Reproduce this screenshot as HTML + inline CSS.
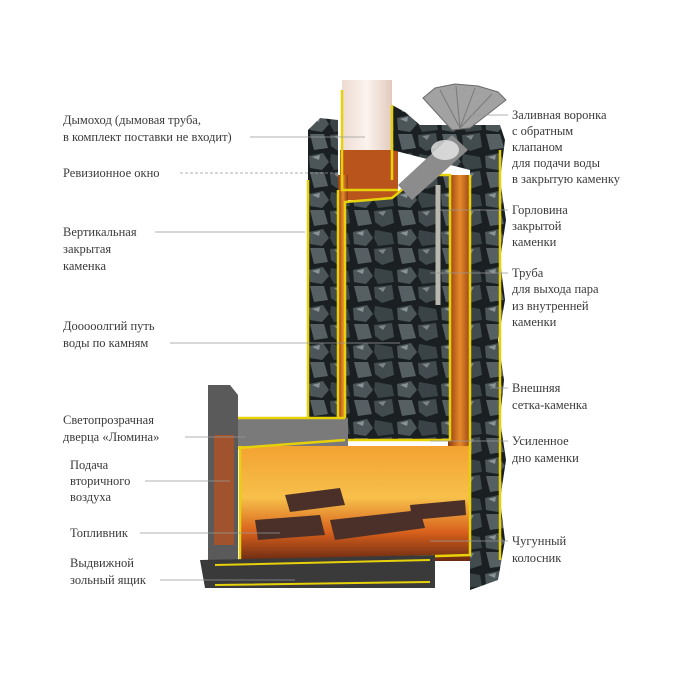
<!DOCTYPE html>
<html><head><meta charset="utf-8"><style>
html,body{margin:0;padding:0;background:#fff;width:700px;height:700px;overflow:hidden}
text{font-family:"Liberation Serif",serif;font-size:12.5px;fill:#3a3a3a}
</style></head><body>
<svg width="700" height="700" viewBox="0 0 700 700" xmlns="http://www.w3.org/2000/svg">
<defs>
<pattern id="rocks" width="44" height="38" patternUnits="userSpaceOnUse">
<rect width="44" height="38" fill="#1a2022"/>
<path d="M1 4 L15 1 L21 10 L14 18 L2 16 Z" fill="#4c5658"/>
<path d="M23 2 L40 5 L42 16 L26 18 L22 10 Z" fill="#3a4345"/>
<path d="M2 20 L16 20 L20 34 L6 36 Z" fill="#566062"/>
<path d="M22 21 L40 19 L42 33 L30 37 L23 32 Z" fill="#424b4d"/>
<path d="M4 5 L12 3 L11 8 Z" fill="#8a9496"/>
<path d="M26 22 L34 21 L31 26 Z" fill="#7c8688"/>
</pattern>
<linearGradient id="fire" x1="0" y1="0" x2="0" y2="1">
<stop offset="0" stop-color="#f3a232"/><stop offset="0.45" stop-color="#f7c04a"/><stop offset="0.75" stop-color="#d8601c"/><stop offset="1" stop-color="#6a2a12"/>
</linearGradient>
<linearGradient id="flue" x1="0" y1="0" x2="1" y2="0">
<stop offset="0" stop-color="#8a3a10"/><stop offset="0.5" stop-color="#e88a2a"/><stop offset="1" stop-color="#8a3a10"/>
</linearGradient>
<linearGradient id="pipe" x1="0" x2="1">
<stop offset="0" stop-color="#eddcd2"/><stop offset="0.5" stop-color="#fcf3ee"/><stop offset="1" stop-color="#e2cabe"/>
</linearGradient>
</defs>
<rect x="342" y="80" width="50" height="110" fill="url(#pipe)"/>
<rect x="340" y="150" width="58" height="50" fill="#b8541c"/>
<rect x="338" y="175" width="10" height="270" fill="url(#flue)"/>
<rect x="448" y="175" width="24" height="275" fill="url(#flue)"/>
<path d="M308 130 L320 118 L338 120 L338 425 L308 420 Z" fill="url(#rocks)"/>
<path d="M392 105 L405 112 L420 125 L500 125 L505 140 L500 180 L506 220 L500 260 L505 300 L498 340 L504 380 L500 420 L506 460 L500 500 L505 540 L498 580 L470 590 L470 170 L392 150 Z" fill="url(#rocks)"/>
<path d="M345 202 L392 198 L420 175 L450 175 L450 440 L345 440 Z" fill="url(#rocks)" stroke="#e7d20a" stroke-width="2.5"/>
<line x1="438" y1="185" x2="438" y2="305" stroke="#b9b9b0" stroke-width="5"/>
<g stroke="#e7d20a" stroke-width="2.5" fill="none">
<path d="M308 180 L308 420"/>
<path d="M338 190 L338 420"/>
<path d="M342 90 L342 190 L398 190"/>
<path d="M392 105 L392 180"/>
<path d="M470 175 L470 450"/>
<path d="M500 150 L500 560"/>
</g>
<!-- funnel fan -->
<path d="M423 98 L435 88 L455 84 L478 86 L498 92 L506 100 L470 128 L452 130 Z" fill="#a2a2a2" stroke="#6a6a6a" stroke-width="1"/>
<g stroke="#7a7a7a" stroke-width="1"><line x1="460" y1="128" x2="440" y2="90"/><line x1="460" y1="128" x2="456" y2="86"/><line x1="460" y1="128" x2="475" y2="88"/><line x1="460" y1="128" x2="492" y2="94"/></g>
<path d="M398 185 L452 135 L468 150 L412 200 Z" fill="#8c8c8c"/>
<ellipse cx="445" cy="150" rx="14" ry="10" fill="#e8e8e8" opacity="0.8"/>
<!-- firebox -->
<path d="M208 385 L230 385 L238 395 L238 560 L208 565 Z" fill="#5a5a5a"/>
<rect x="214" y="435" width="20" height="110" fill="#a0532c"/>
<rect x="238" y="418" width="110" height="28" fill="#7a7a7a"/>
<rect x="240" y="446" width="230" height="115" fill="url(#fire)"/>
<g fill="#4a3028">
<path d="M285 495 L340 488 L345 505 L290 512 Z"/>
<path d="M255 520 L320 515 L325 535 L258 540 Z"/>
<path d="M330 520 L420 510 L425 528 L335 540 Z"/>
<path d="M410 505 L465 500 L466 515 L412 520 Z"/>
</g>
<g stroke="#e7d20a" stroke-width="2.5" fill="none">
<path d="M238 448 L345 440 M240 446 L240 562 L470 555 L470 445"/>
<path d="M238 418 L345 418"/>
</g>
<path d="M200 560 L435 555 L435 588 L205 588 Z" fill="#3a3a3a"/>
<path d="M215 565 L430 560 M215 585 L430 582" stroke="#e7d20a" stroke-width="2"/>
<g stroke="#999" stroke-width="0.8" fill="none">
<line x1="250" y1="137" x2="365" y2="137"/>
<line x1="180" y1="173" x2="340" y2="173" stroke-dasharray="3,2"/>
<line x1="155" y1="232" x2="305" y2="232"/>
<line x1="170" y1="343" x2="400" y2="343"/>
<line x1="185" y1="437" x2="245" y2="437"/>
<line x1="145" y1="481" x2="230" y2="481"/>
<line x1="140" y1="533" x2="280" y2="533"/>
<line x1="160" y1="580" x2="295" y2="580"/>
<line x1="470" y1="115" x2="508" y2="115"/>
<line x1="440" y1="210" x2="508" y2="210"/>
<line x1="430" y1="273" x2="508" y2="273"/>
<line x1="490" y1="388" x2="508" y2="388"/>
<line x1="430" y1="441" x2="508" y2="441"/>
<line x1="430" y1="541" x2="508" y2="541"/>
</g>
<text x="63" y="124">Дымоход (дымовая труба,</text>
<text x="63" y="141">в комплект поставки не входит)</text>
<text x="63" y="177">Ревизионное окно</text>
<text x="63" y="236">Вертикальная</text>
<text x="63" y="253">закрытая</text>
<text x="63" y="270">каменка</text>
<text x="63" y="330">Дооооолгий путь</text>
<text x="63" y="347">воды по камням</text>
<text x="63" y="424">Светопрозрачная</text>
<text x="63" y="441">дверца «Люмина»</text>
<text x="70" y="469">Подача</text>
<text x="70" y="485">вторичного</text>
<text x="70" y="501">воздуха</text>
<text x="70" y="537">Топливник</text>
<text x="70" y="567">Выдвижной</text>
<text x="70" y="584">зольный ящик</text>
<text x="512" y="119">Заливная воронка</text>
<text x="512" y="135">с обратным</text>
<text x="512" y="151">клапаном</text>
<text x="512" y="167">для подачи воды</text>
<text x="512" y="183">в закрытую каменку</text>
<text x="512" y="214">Горловина</text>
<text x="512" y="230">закрытой</text>
<text x="512" y="246">каменки</text>
<text x="512" y="277">Труба</text>
<text x="512" y="293">для выхода пара</text>
<text x="512" y="310">из внутренней</text>
<text x="512" y="326">каменки</text>
<text x="512" y="392">Внешняя</text>
<text x="512" y="409">сетка-каменка</text>
<text x="512" y="445">Усиленное</text>
<text x="512" y="462">дно каменки</text>
<text x="512" y="545">Чугунный</text>
<text x="512" y="562">колосник</text>
</svg>
</body></html>
